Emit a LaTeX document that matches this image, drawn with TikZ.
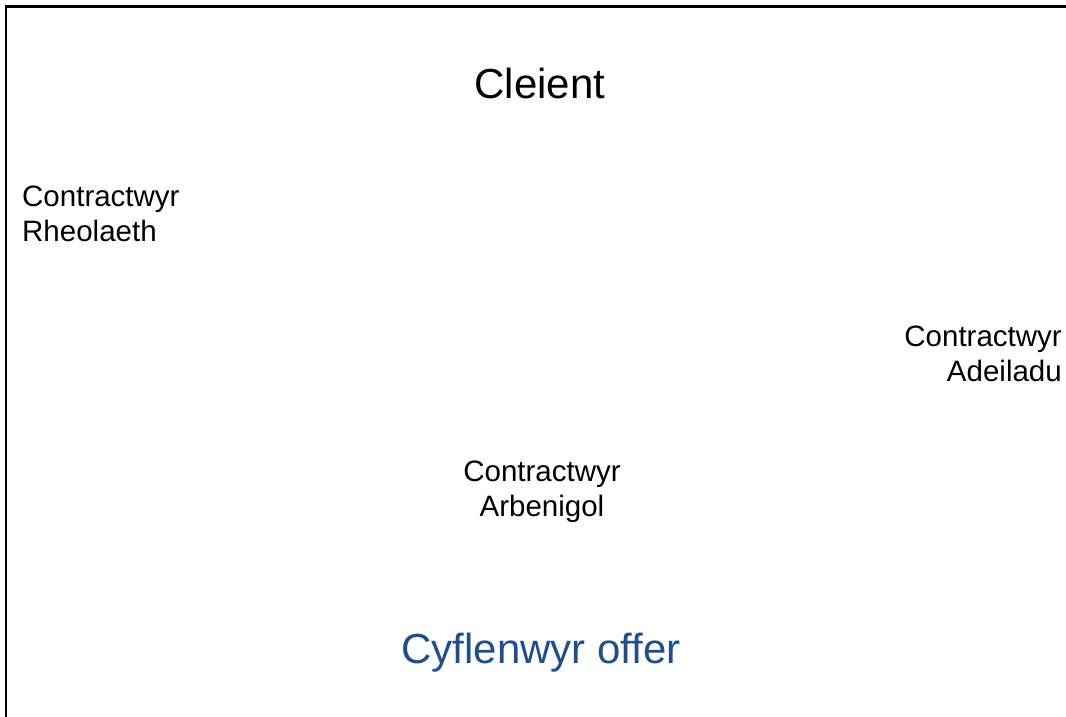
\documentclass[tikz,border=0pt]{standalone}
\usepackage{fontspec}
\setmainfont{Liberation Sans}
\definecolor{offerblue}{RGB}{31,78,140}
\begin{document}
\begin{tikzpicture}[x=1pt,y=-1pt,
  big/.style={font=\fontsize{42}{48}\selectfont, inner sep=0pt, anchor=base},
  small/.style={font=\fontsize{29.5}{35}\selectfont, inner sep=0pt, anchor=base},
  frame/.style={line width=2.2pt, black}]
\useasboundingbox (0,0) rectangle (1066,717);
\coordinate (tl) at (6,6.5);
\coordinate (tr) at (1066,6.5);
\coordinate (bl) at (6,717);
\draw[frame] (tr) -- (tl) -- (bl);
\node[big] (client) at (540,99) {Cleient};
\node[small, align=left, anchor=base west] (rheol) at (22,241) {Contractwyr\\Rheolaeth};
\node[small, align=right, anchor=base east] (adeil) at (1062,381) {Contractwyr\\Adeiladu};
\node[small, align=center] (arben) at (542,516) {Contractwyr\\Arbenigol};
\node[big, text=offerblue] (offer) at (541,663) {Cyflenwyr offer};
\end{tikzpicture}
\end{document}
